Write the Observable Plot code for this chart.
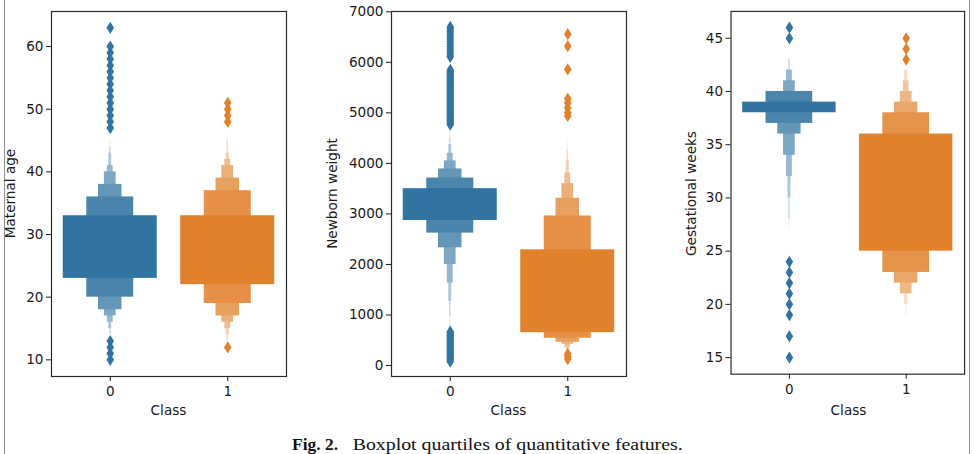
<!DOCTYPE html>
<html><head><meta charset="utf-8">
<script src="https://cdn.jsdelivr.net/npm/d3@7"></script>
<script src="https://cdn.jsdelivr.net/npm/@observablehq/plot@0.6"></script>
<style>
body{margin:0;background:#fff;}
#wrap{position:relative;width:976px;height:454px;overflow:hidden;background:#fff;}
.panel{position:absolute;top:0;}
#overlay{position:absolute;left:0;top:0;pointer-events:none;}
.border{position:absolute;top:0;height:454px;width:1.5px;background:#8f8f8f;}
</style>
</head><body>
<div id="wrap">
  <div class="border" style="left:3.5px"></div>
  <div class="border" style="left:968.5px"></div>
  <div id="p1" class="panel"></div>
  <div id="p2" class="panel"></div>
  <div id="p3" class="panel"></div>
  <svg id="overlay" width="976" height="454"></svg>
</div>
<script>
// ---------- data ----------
const classes = [0, 1];
const xLabel = "Class";
const yLabels = ["Maternal age", "Newborn weight", "Gestational weeks"];
const captionBold = "Fig. 2.";
const captionText = "Boxplot quartiles of quantitative features.";

// letter-value boxes, innermost (IQR) first: [low, high]
const ageBoxes0 = [[23,33],[20,36],[18,38],[17,40],[16,41],[15,43],[14,44],[14,45]];
const ageBoxes1 = [[22,33],[19,37],[17,39],[16,41],[15,42],[14,43],[13,45],[13,46]];
const ageOut0 = [10,11,12,13,47,48,49,50,51,52,53,54,55,56,57,58,59,60,63];
const ageOut1 = [12,48,49,50,51];
const ageTicks = [10,20,30,40,50,60];

const weightBoxes0 = [[2870,3500],[2620,3710],[2330,3890],[2000,4050],[1630,4200],[1270,4370],[970,4500],[760,4650]];
const weightBoxes1 = [[650,2290],[540,2960],[460,3310],[420,3600],[360,3810],[320,4070],[290,4270],[270,4470]];
const weightOut0 = [80,110,140,170,200,230,260,290,320,350,380,410,440,470,500,530,560,590,620,650,670,
  4770,4800,4830,4860,4890,4920,4950,4980,5010,5040,5070,5100,5130,5160,5190,5220,5250,5280,5310,5340,
  5370,5400,5430,5460,5490,5520,5550,5580,5610,5640,5670,5700,5730,5760,5790,5820,5850,
  6110,6160,6210,6260,6310,6360,6410,6460,6510,6560,6610,6660,6700];
const weightOut1 = [130,180,230,4940,5000,5100,5200,5280,5860,6320,6560];
const weightTicks = [0,1000,2000,3000,4000,5000,6000,7000];

const gestBoxes0 = [[38,39],[37,40],[36,40],[34,41],[32,42],[30,42],[28,43],[27,43]];
const gestBoxes1 = [[25,36],[23,38],[22,39],[21,40],[21,41],[20,42],[19,42]];
const gestOut0 = [15,17,19,20,21,22,23,24,45,46];
const gestOut1 = [43,44,45];
const gestTicks = [15,20,25,30,35,40,45];

const classColors = ["#3274a1", "#e1812c"];

// ---------- drawing ----------
const thinDiamond = {
  draw(ctx, size) {
    const r = Math.sqrt(size / Math.PI);
    const w = r * 0.68, h = r * 1.1;
    ctx.moveTo(0, -h); ctx.lineTo(w, 0); ctx.lineTo(0, h); ctx.lineTo(-w, 0); ctx.closePath();
  }
};

const FRAME_W = 235, FRAME_TOP = 11, FRAME_BOTTOM = 376;

function panel(el, {boxes, outs, yDomain, yTicks, frameLeft}) {
  const marginLeft = 80, marginRight = 12;
  const rects = [];
  boxes.forEach((bx, cls) => {
    const k = bx.length;
    const light = d3.interpolateRgb(classColors[cls], "#ffffff")(0.85);
    for (let i = k - 1; i >= 0; i--) {
      const w = 0.8 * Math.pow(0.5, i);
      rects.push({cls, lo: bx[i][0], hi: bx[i][1], x1: classes[cls] - w / 2, x2: classes[cls] + w / 2,
        fill: d3.interpolateRgb(classColors[cls], light)(k > 1 ? i / (k - 1) : 0)});
    }
  });
  const dots = [];
  outs.forEach((o, cls) => o.forEach(v => dots.push({cls: classes[cls], v, fill: classColors[cls]})));
  const chart = Plot.plot({
    width: marginLeft + FRAME_W + marginRight,
    height: 420,
    marginLeft, marginRight, marginTop: FRAME_TOP, marginBottom: 420 - FRAME_BOTTOM,
    style: {fontFamily: "DejaVu Sans", fontSize: "13.6px", color: "#1a1a1a", background: "transparent", overflow: "visible"},
    x: {domain: [-0.5, 1.5], ticks: classes, tickFormat: d => String(d), label: null, tickSize: 5, tickPadding: 5},
    y: {domain: yDomain, ticks: yTicks, tickFormat: d => String(d), label: null, tickSize: 5, tickPadding: 3},
    color: {type: "identity"},
    marks: [
      Plot.rect(rects, {x1: "x1", x2: "x2", y1: "lo", y2: "hi", fill: "fill"}),
      Plot.dot(dots, {x: "cls", y: "v", symbol: thinDiamond, r: 5.6, fill: "fill", stroke: "none"}),
      Plot.frame({stroke: "#2a2a2a", strokeWidth: 1.2})
    ]
  });
  el.style.left = (frameLeft - marginLeft) + "px";
  el.appendChild(chart);
}

const frameLefts = [51, 391, 731];
panel(document.getElementById("p1"), {boxes: [ageBoxes0, ageBoxes1], outs: [ageOut0, ageOut1],
  yDomain: [7.34, 65.6], yTicks: ageTicks, frameLeft: frameLefts[0]});
panel(document.getElementById("p2"), {boxes: [weightBoxes0, weightBoxes1], outs: [weightOut0, weightOut1],
  yDomain: [-217, 7006], yTicks: weightTicks, frameLeft: frameLefts[1]});
panel(document.getElementById("p3"), {boxes: [gestBoxes0, gestBoxes1], outs: [gestOut0, gestOut1],
  yDomain: [13.44, 47.52], yTicks: gestTicks, frameLeft: frameLefts[2]});

// axis titles and caption as real text
const ov = d3.select("#overlay");
const yLabelX = [14.5, 337, 696];
const midY = (FRAME_TOP + FRAME_BOTTOM) / 2;
yLabels.forEach((t, i) => {
  ov.append("text").attr("transform", `translate(${yLabelX[i]},${midY}) rotate(-90)`)
    .attr("text-anchor", "middle").attr("font-family", "DejaVu Sans").attr("font-size", 13.6)
    .attr("fill", "#1a1a1a").text(t);
  ov.append("text").attr("x", frameLefts[i] + FRAME_W / 2).attr("y", 415)
    .attr("text-anchor", "middle").attr("font-family", "DejaVu Sans").attr("font-size", 13.6)
    .attr("fill", "#1a1a1a").text(xLabel);
});
ov.append("text").attr("x", 292).attr("y", 449.5).attr("font-family", "Liberation Serif").attr("font-weight", "bold")
  .attr("font-size", 16).attr("fill", "#111").attr("textLength", 46).attr("lengthAdjust", "spacingAndGlyphs").text(captionBold);
ov.append("text").attr("x", 352.7).attr("y", 449.5).attr("font-family", "Liberation Serif")
  .attr("font-size", 16).attr("fill", "#111").attr("textLength", 330).attr("lengthAdjust", "spacingAndGlyphs").text(captionText);
</script>
</body></html>
